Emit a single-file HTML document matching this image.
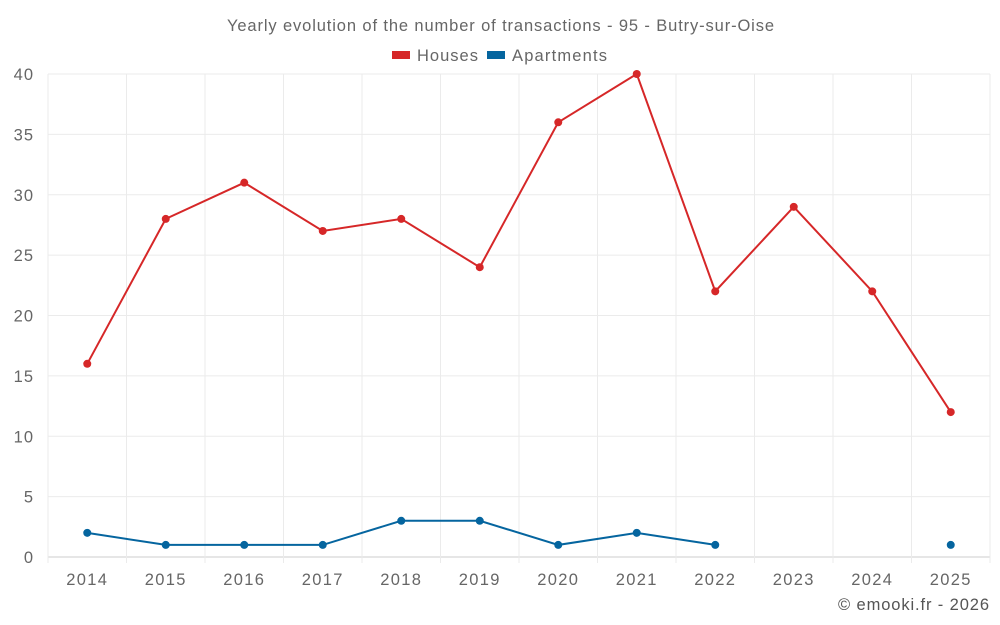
<!DOCTYPE html>
<html><head><meta charset="utf-8"><style>
body{margin:0;background:#fff;}
svg{display:block;font-family:"Liberation Sans",sans-serif;}
</style></head><body>
<svg id="chart" width="1000" height="625" viewBox="0 0 1000 625">
<text x="227" y="31" font-size="16.5" fill="#666" textLength="547" lengthAdjust="spacing">Yearly evolution of the number of transactions - 95 - Butry-sur-Oise</text>
<g>
<g><rect x="392" y="51" width="18" height="8" fill="#d62728"/><text x="417" y="61" font-size="16.5" fill="#666" textLength="61" lengthAdjust="spacing">Houses</text></g>
<g><rect x="487" y="51" width="18" height="8" fill="#05659f"/><text x="512" y="61" font-size="16.5" fill="#666" textLength="95" lengthAdjust="spacing">Apartments</text></g>
</g>
<g id="grid"></g>
<g id="axes"></g>
<g id="series"></g>
<text x="838" y="610" font-size="16.5" fill="#555" textLength="151" lengthAdjust="spacing">© emooki.fr - 2026</text>
</svg>
<script>
const years=["2014","2015","2016","2017","2018","2019","2020","2021","2022","2023","2024","2025"];
const houses=[16,28,31,27,28,24,36,40,22,29,22,12];
const apartments=[2,1,1,1,3,3,1,2,1,null,null,1];
const yTicks=[0,5,10,15,20,25,30,35,40];
const L=48,R=990,T=74,B=557,yMax=40;
const bw=(R-L)/years.length;
const x=i=>L+bw*(i+0.5);
const y=v=>B-(v/yMax)*(B-T);
const NS="http://www.w3.org/2000/svg";
function mk(tag,attrs,parent){const e=document.createElementNS(NS,tag);for(const k in attrs)e.setAttribute(k,attrs[k]);parent.appendChild(e);return e;}
const grid=document.getElementById('grid'),axes=document.getElementById('axes'),series=document.getElementById('series');
yTicks.forEach(t=>{
 const l=mk('line',{x1:L,x2:R,y1:y(t),y2:y(t),stroke:t===0?'#ccc':'#ebebeb','stroke-width':1},grid);
 
 
 const tx=mk('text',{x:34,y:y(t)+6,'text-anchor':'end','font-size':16.5,fill:'#666','letter-spacing':1},axes);
 tx.textContent=t;
 
 
});
for(let i=0;i<=years.length;i++){
 const l=mk('line',{x1:L+bw*i,x2:L+bw*i,y1:T,y2:B+6,stroke:'#ebebeb','stroke-width':1},grid);
 
 
}
years.forEach((yr,i)=>{
 const tx=mk('text',{x:x(i),y:585,'text-anchor':'middle','font-size':16.5,fill:'#666','letter-spacing':1.3},axes);
 tx.textContent=yr;
 
 
});
function draw(data,color,name){
 const g=mk('g',{},series);
 
 
 let seg=[];
 const flush=()=>{if(seg.length>1){const p=mk('polyline',{points:seg.join(' '),fill:'none',stroke:color,'stroke-width':2},g);}seg=[];};
 data.forEach((v,i)=>{if(v===null){flush();return;}seg.push(x(i)+','+y(v));});
 flush();
 data.forEach((v,i)=>{if(v===null)return;
  const c=mk('circle',{cx:x(i),cy:y(v),r:4,fill:color},g);
  
  
 });
}
draw(houses,'#d62728','houses');
draw(apartments,'#05659f','apartments');
</script>
</body></html>
